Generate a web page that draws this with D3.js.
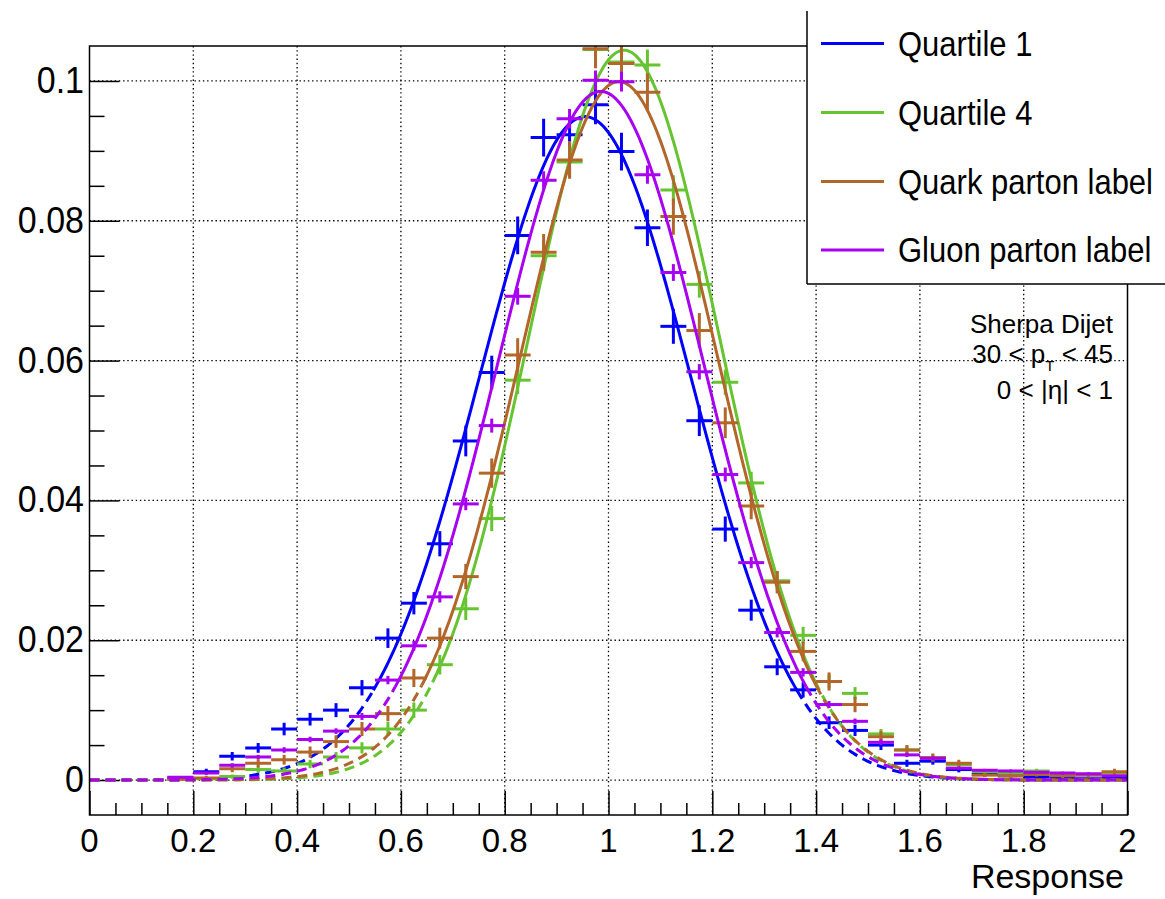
<!DOCTYPE html>
<html>
<head>
<meta charset="utf-8">
<script src="https://cdn.jsdelivr.net/npm/d3@7/dist/d3.min.js"></script>
<style>
  html, body { margin: 0; padding: 0; background: #ffffff; }
  svg { display: block; }
  text { font-family: "Liberation Sans", Arial, Helvetica, sans-serif; fill: #000; }
</style>
</head>
<body>
<svg id="chart" width="1165" height="899"></svg>
<script>
// ---------------- DATA ----------------
const binCenters = [0.025,0.075,0.125,0.175,0.225,0.275,0.325,0.375,0.425,0.475,
  0.525,0.575,0.625,0.675,0.725,0.775,0.825,0.875,0.925,0.975,
  1.025,1.075,1.125,1.175,1.225,1.275,1.325,1.375,1.425,1.475,
  1.525,1.575,1.625,1.675,1.725,1.775,1.825,1.875,1.925,1.975];
const binWidth = 0.05;

const seriesNames = ["Quartile 1", "Quartile 4", "Quark parton label", "Gluon parton label"];
const seriesColors = ["#0000ff", "#66c431", "#b3662a", "#a800f0"];

const q1Values = [0,0,0,0.0003,0.0012,0.0034,0.0046,0.0073,0.0087,0.0100,
  0.0132,0.0203,0.0253,0.0338,0.0485,0.0583,0.0779,0.0919,0.0923,0.0966,
  0.0899,0.0790,0.0649,0.0514,0.0359,0.0243,0.0162,0.0129,0.0082,0.0071,
  0.0050,0.0024,0.0027,0.0015,0.0008,0.0006,0.0004,0.0003,0.0002,0.0003];
const q1Errors = [0,0,0,0.0002,0.0004,0.0006,0.0007,0.0009,0.0009,0.0010,
  0.0011,0.0014,0.0016,0.0018,0.0022,0.0024,0.0027,0.0027,0.0028,0.0028,
  0.0027,0.0026,0.0025,0.0022,0.0018,0.0015,0.0012,0.0011,0.0009,0.0008,
  0.0007,0.0005,0.0005,0.0004,0.0003,0.0002,0.0002,0.0002,0.0001,0.0002];

const q4Values = [0,0,0,0.0001,0.0002,0.0005,0.0015,0.0013,0.0023,0.0033,
  0.0046,0.0073,0.0100,0.0165,0.0245,0.0374,0.0572,0.0750,0.0884,0.1045,
  0.1027,0.1023,0.0844,0.0709,0.0569,0.0425,0.0285,0.0207,0.0141,0.0124,
  0.0066,0.0043,0.0032,0.0022,0.0012,0.0010,0.0013,0.0009,0.0008,0.0010];
const q4Errors = [0,0,0,0.0001,0.0002,0.0003,0.0005,0.0005,0.0006,0.0007,
  0.0008,0.0010,0.0011,0.0014,0.0016,0.0018,0.0020,0.0022,0.0022,0.0024,
  0.0023,0.0022,0.0021,0.0019,0.0018,0.0016,0.0014,0.0012,0.0010,0.0009,
  0.0007,0.0006,0.0005,0.0004,0.0003,0.0003,0.0003,0.0003,0.0002,0.0003];

const quarkValues = [0,0,0,0.0001,0.0003,0.0016,0.0024,0.0029,0.0040,0.0055,
  0.0073,0.0095,0.0146,0.0203,0.0291,0.0439,0.0608,0.0755,0.0887,0.1046,
  0.1025,0.0984,0.0806,0.0643,0.0511,0.0392,0.0283,0.0184,0.0141,0.0108,
  0.0062,0.0043,0.0032,0.0024,0.0007,0.0006,0.0008,0.0006,0.0007,0.0012];
const quarkErrors = [0,0,0,0.0001,0.0003,0.0005,0.0006,0.0007,0.0008,0.0009,
  0.0010,0.0011,0.0013,0.0015,0.0018,0.0021,0.0024,0.0026,0.0027,0.0028,
  0.0028,0.0027,0.0026,0.0025,0.0022,0.0019,0.0016,0.0014,0.0013,0.0011,
  0.0008,0.0007,0.0006,0.0005,0.0003,0.0003,0.0003,0.0003,0.0003,0.0004];

const gluonValues = [0,0,0,0.0004,0.0010,0.0021,0.0033,0.0043,0.0058,0.0070,
  0.0091,0.0143,0.0192,0.0262,0.0395,0.0507,0.0692,0.0858,0.0946,0.1001,
  0.0999,0.0866,0.0726,0.0584,0.0437,0.0311,0.0211,0.0154,0.0108,0.0084,
  0.0054,0.0036,0.0031,0.0017,0.0014,0.0013,0.0011,0.0010,0.0009,0.0006];
const gluonErrors = [0,0,0,0.0001,0.0002,0.0003,0.0003,0.0004,0.0004,0.0004,
  0.0005,0.0006,0.0007,0.0008,0.0009,0.0010,0.0012,0.0013,0.0014,0.0014,
  0.0014,0.0013,0.0012,0.0011,0.0010,0.0008,0.0007,0.0006,0.0005,0.0004,
  0.0004,0.0003,0.0003,0.0002,0.0002,0.0002,0.0002,0.0002,0.0002,0.0001];

// Gaussian fit parameters (amplitude, mean, sigma); fit range = mean +/- 2 sigma
const fitAmplitude = [0.0949, 0.1044, 0.0999, 0.0985];
const fitMean      = [0.955, 1.030, 1.020, 0.985];
const fitSigma     = [0.204, 0.184, 0.190, 0.198];
const fitRangeSigmas = 2;

const xTicks = [0, 0.2, 0.4, 0.6, 0.8, 1, 1.2, 1.4, 1.6, 1.8, 2];
const xTickLabels = ["0","0.2","0.4","0.6","0.8","1","1.2","1.4","1.6","1.8","2"];
const yTicks = [0, 0.02, 0.04, 0.06, 0.08, 0.1];
const yTickLabels = ["0","0.02","0.04","0.06","0.08","0.1"];
const xDomain = [0, 2];
const yDomain = [-0.005, 0.105];
const xTitle = "Response";
const infoLines = ["Sherpa Dijet", "30 < p", "0 < |η| < 1"];

// ---------------- LAYOUT ----------------
const svg = d3.select("#chart");
const L = 89.5, R = 1127.5, T = 46, B = 815;
const x = d3.scaleLinear().domain(xDomain).range([L, R]);
const y = d3.scaleLinear().domain(yDomain).range([B, T]);

svg.append("rect").attr("width", 1165).attr("height", 899).attr("fill", "#fff");

svg.append("defs").append("clipPath").attr("id", "frameClip")
  .append("rect").attr("x", L).attr("y", T).attr("width", R - L).attr("height", B - T);

// grid
const grid = svg.append("g").attr("stroke", "#000").attr("stroke-width", 1.3)
  .attr("stroke-dasharray", "1.4,2.8").attr("fill", "none");
xTicks.filter(v => v > xDomain[0] && v < xDomain[1]).forEach(v => {
  grid.append("line").attr("x1", x(v)).attr("x2", x(v)).attr("y1", T).attr("y2", B);
});
yTicks.forEach(v => {
  grid.append("line").attr("x1", L).attr("x2", R).attr("y1", y(v)).attr("y2", y(v));
});

// axes (ROOT-like inward ticks)
const xAxis = d3.axisBottom(x).tickValues(d3.range(0, 2.0001, 0.05)).tickSize(0).tickFormat("");
const gx = svg.append("g").attr("transform", `translate(0,${B})`).call(xAxis);
gx.select(".domain").remove();
gx.selectAll(".tick line").remove();
gx.selectAll(".tick").each(function(d) {
  const major = xTicks.some(t => Math.abs(t - d) < 1e-6);
  d3.select(this).append("line").attr("y1", 0).attr("y2", major ? -24 : -12)
    .attr("stroke", "#000").attr("stroke-width", 1.5);
});
svg.append("g").selectAll("text").data(xTicks).join("text")
  .attr("x", (d) => x(d)).attr("y", 852).attr("text-anchor", "middle")
  .style("font-size", "33px").text((d, i) => xTickLabels[i]);

const yAxis = d3.axisLeft(y).tickValues(d3.range(0, 0.10001, 0.005)).tickSize(0).tickFormat("");
const gy = svg.append("g").attr("transform", `translate(${L},0)`).call(yAxis);
gy.select(".domain").remove();
gy.selectAll(".tick line").remove();
gy.selectAll(".tick").each(function(d) {
  const major = yTicks.some(t => Math.abs(t - d) < 1e-7);
  d3.select(this).append("line").attr("x1", 0).attr("x2", major ? 30 : 15)
    .attr("stroke", "#000").attr("stroke-width", 1.5);
});
svg.append("g").selectAll("text").data(yTicks).join("text")
  .attr("transform", (d) => `translate(84,${y(d) + 12}) scale(1,1.08)`)
  .attr("text-anchor", "end")
  .style("font-size", "34px").text((d, i) => yTickLabels[i]);

svg.append("text").attr("x", 1124).attr("y", 888).attr("text-anchor", "end")
  .style("font-size", "34px").text(xTitle);

// ---------------- DATA MARKS ----------------
const plot = svg.append("g").attr("clip-path", "url(#frameClip)");
const allValues = [q1Values, q4Values, quarkValues, gluonValues];
const allErrors = [q1Errors, q4Errors, quarkErrors, gluonErrors];

allValues.forEach((vals, s) => {
  const col = seriesColors[s];
  const g = plot.append("g").attr("stroke", col).attr("stroke-width", 3).attr("fill", "none");
  const pts = binCenters.map((c, i) => ({c, v: vals[i], e: allErrors[s][i]})).filter(d => d.v > 0);
  g.selectAll("line.h").data(pts).join("line").attr("class", "h")
    .attr("x1", d => x(d.c - binWidth / 2)).attr("x2", d => x(d.c + binWidth / 2))
    .attr("y1", d => y(d.v)).attr("y2", d => y(d.v));
  g.selectAll("line.v").data(pts).join("line").attr("class", "v")
    .attr("x1", d => x(d.c)).attr("x2", d => x(d.c))
    .attr("y1", d => y(d.v - d.e)).attr("y2", d => y(d.v + d.e));

  // fit curve
  const A = fitAmplitude[s], mu = fitMean[s], sg = fitSigma[s];
  const f = (t) => A * Math.exp(-0.5 * ((t - mu) / sg) ** 2);
  const lo = mu - fitRangeSigmas * sg, hi = mu + fitRangeSigmas * sg;
  const line = d3.line().x(t => x(t)).y(t => y(f(t)));
  const sample = (a, b) => { const n = 200; return d3.range(n + 1).map(k => a + (b - a) * k / n); };
  g.append("path").attr("d", line(sample(xDomain[0], lo))).attr("stroke-dasharray", "10,6");
  g.append("path").attr("d", line(sample(hi, xDomain[1]))).attr("stroke-dasharray", "10,6");
  g.append("path").attr("d", line(sample(lo, hi)));
});

// frame
svg.append("rect").attr("x", L).attr("y", T).attr("width", R - L).attr("height", B - T)
  .attr("fill", "none").attr("stroke", "#000").attr("stroke-width", 1.5);

// info text
const info = svg.append("g").style("font-size", "26px");
info.append("text").attr("x", 1113).attr("y", 333).attr("text-anchor", "end").text(infoLines[0]);
const t2 = info.append("text").attr("x", 1113).attr("y", 363).attr("text-anchor", "end");
t2.append("tspan").text(infoLines[1]);
t2.append("tspan").attr("dy", 8).style("font-size", "15px").text("T");
t2.append("tspan").attr("dy", -8).text(" < 45");
info.append("text").attr("x", 1113).attr("y", 399).attr("text-anchor", "end").text(infoLines[2]);

// legend
const lg = svg.append("g");
lg.append("rect").attr("x", 807).attr("y", 11).attr("width", 400).attr("height", 273).attr("fill", "#fff");
lg.append("line").attr("x1", 807).attr("x2", 807).attr("y1", 11).attr("y2", 284).attr("stroke", "#000").attr("stroke-width", 1.5);
lg.append("line").attr("x1", 807).attr("x2", 1165).attr("y1", 284).attr("y2", 284).attr("stroke", "#000").attr("stroke-width", 1.5);
const legY = [43.5, 112.5, 181.5, 250];
seriesNames.forEach((name, s) => {
  lg.append("line").attr("x1", 821).attr("x2", 884).attr("y1", legY[s]).attr("y2", legY[s])
    .attr("stroke", seriesColors[s]).attr("stroke-width", 3);
  lg.append("text").attr("transform", `translate(898,${legY[s] + 12}) scale(1,1.12)`)
    .style("font-size", "31px").text(name);
});
</script>
</body>
</html>
